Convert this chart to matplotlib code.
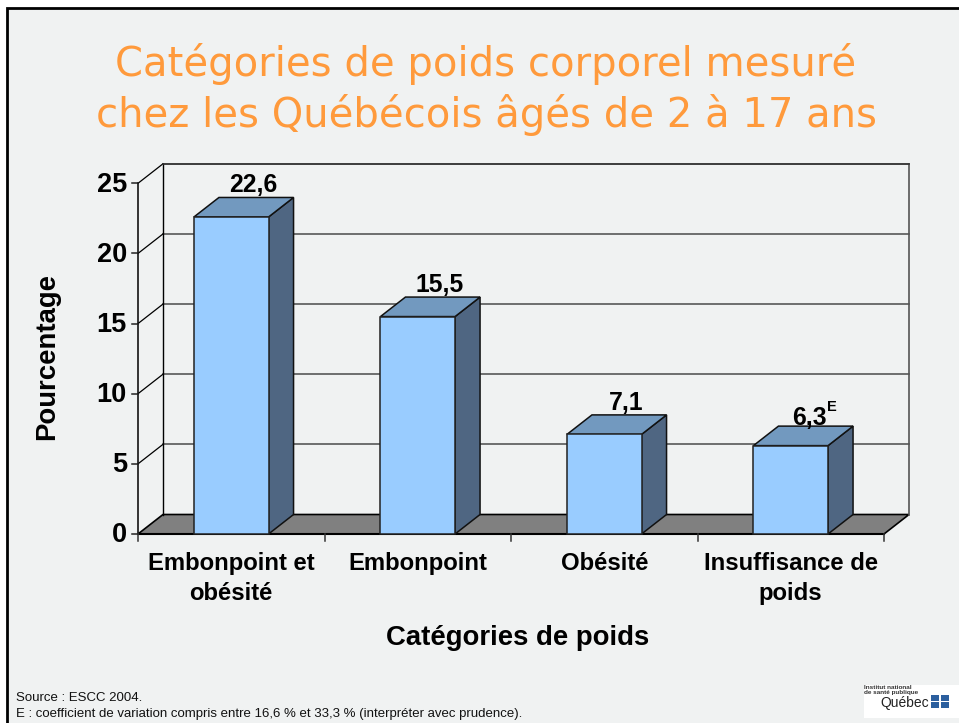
import matplotlib
matplotlib.use("Agg")
import matplotlib.pyplot as plt
from matplotlib.patches import Polygon, Rectangle

W, H = 959, 723
categories = ["Embonpoint et\nobésité", "Embonpoint", "Obésité", "Insuffisance de\npoids"]
values = [22.6, 15.5, 7.1, 6.3]
value_labels = ["22,6", "15,5", "7,1", "6,3"]
yticks = [0, 5, 10, 15, 20, 25]
title = "Catégories de poids corporel mesuré\nchez les Québécois âgés de 2 à 17 ans"
source_lines = ["Source : ESCC 2004.",
                "E : coefficient de variation compris entre 16,6 % et 33,3 % (interpréter avec prudence)."]

BG = "#f0f2f2"
plt.rcParams["font.family"] = ["Liberation Sans", "DejaVu Sans"]
fig = plt.figure(figsize=(W / 100, H / 100), dpi=100, facecolor="white")

page = fig.add_axes([0, 0, 1, 1])
page.set_xlim(0, W); page.set_ylim(H, 0); page.axis("off")
page.add_patch(Rectangle((7, 8), W, H, fc=BG, ec="black", lw=2))

L, R, T, B = 138, 884, 183.3, 534
ax = fig.add_axes([L / W, 1 - B / H, (R - L) / W, (B - T) / H], facecolor="none")
ax.set_xlim(0, 4); ax.set_ylim(0, 25)
for s in ax.spines.values():
    s.set_visible(False)
ax.set_xticks([]); ax.set_yticks([])

px_x = (R - L) / 4
px_y = (B - T) / 25
dx = 25 / px_x
dy = 19.5 / px_y
bw = 0.4

kw = dict(clip_on=False)
ax.add_patch(Polygon([(0, 0), (4, 0), (4 + dx, dy), (dx, dy)], fc="#808080", ec="black", lw=1.2, zorder=1, **kw))
for t in yticks:
    if t:
        ax.plot([dx, 4 + dx], [t + dy] * 2, color="#4a4a4a", lw=1.1, zorder=1, **kw)
        ax.plot([0, dx], [t, t + dy], color="black", lw=0.9, zorder=1, **kw)
ax.plot([dx, dx], [dy, 25 + dy], color="black", lw=1, zorder=1, **kw)
ax.plot([4 + dx, 4 + dx], [dy, 25 + dy], color="#555555", lw=1.2, zorder=1, **kw)
ax.plot([dx, 4 + dx], [25 + dy] * 2, color="#333333", lw=1.1, zorder=1, **kw)
ax.plot([0, 0], [0, 25], color="black", lw=1.1, zorder=2, **kw)
ax.plot([0, 4], [0, 0], color="black", lw=1.5, zorder=2, **kw)

for t in yticks:
    ax.plot([-6.5 / px_x, 0], [t, t], color="#222222", lw=1.1, zorder=2, **kw)
    ax.text(-11 / px_x, t - 0.1, str(t), ha="right", va="center",
            fontsize=19.5, fontweight="bold", color="black")
for i in range(5):
    ax.plot([i, i], [0, -7 / px_y], color="#333333", lw=1.1, zorder=2, **kw)

for i, (v, lab) in enumerate(zip(values, value_labels)):
    c = i + 0.5
    x0, x1 = c - bw / 2, c + bw / 2
    ax.add_patch(Polygon([(x1, 0), (x1 + dx, dy), (x1 + dx, v + dy), (x1, v)],
                         fc="#4f6682", ec="#111111", lw=1.1, zorder=3, **kw))
    ax.add_patch(Polygon([(x0, v), (x1, v), (x1 + dx, v + dy), (x0 + dx, v + dy)],
                         fc="#7299bf", ec="#111111", lw=1.1, zorder=3, **kw))
    ax.add_patch(Rectangle((x0, 0), bw, v, fc="#99ccff", ec="#222222", lw=1.1, zorder=4, **kw))
    lx = c + dx / 2 + (0.05 if i < 3 else 0.035)
    ly = v + dy + (0.0 if i < 3 else -0.3)
    ax.text(lx, ly, lab, ha="center", va="bottom",
            fontsize=17.8, fontweight="bold", color="black", zorder=5)
    ax.text(c, -1.25, categories[i], ha="center", va="top", fontsize=17.2, fontweight="bold",
            color="black", linespacing=1.42, **kw)
    if i == 3:
        ax.text(lx + 17 / px_x, v + dy + 1.35, "E", ha="left", va="center",
                fontsize=10.5, fontweight="bold", color="black", zorder=5)

page.text(486, 89.5, title, ha="center", va="center", fontsize=28.9, color="#ff9a3c",
          linespacing=1.25, family=["DejaVu Sans"])
page.text(47, 356, "Pourcentage", rotation=90, ha="center", va="center", fontsize=19.8, fontweight="bold")
page.text(518, 638, "Catégories de poids", ha="center", va="center", fontsize=19.8, fontweight="bold")
page.text(16, 698, source_lines[0], ha="left", va="center", fontsize=9.55, color="#111111")
page.text(16, 714.5, source_lines[1], ha="left", va="center", fontsize=9.55, color="#111111")

page.add_patch(Rectangle((864, 685), 95, 33, fc="white", ec="none"))
page.text(864, 690, "Institut national\nde santé publique", ha="left", va="center", fontsize=4.6,
          fontweight="bold", color="#333333", linespacing=1.0)
page.text(880, 703, "Québec", ha="left", va="center", fontsize=10, color="#222222")
for cx in (931, 941):
    for cy in (695, 702):
        page.add_patch(Rectangle((cx, cy), 8, 5.5, fc="#2b5f9e", ec="none"))

fig.savefig("out.png", dpi=100, facecolor="white")
